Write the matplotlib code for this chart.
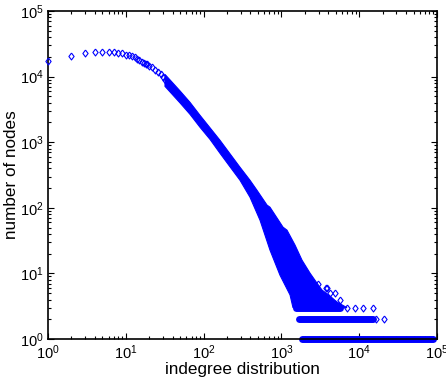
import matplotlib
matplotlib.use('Agg')
import matplotlib.pyplot as plt
from matplotlib.ticker import LogLocator, NullFormatter

plt.rcParams['font.family'] = ['Liberation Sans', 'DejaVu Sans']
plt.rcParams['mathtext.default'] = 'regular'

# small in-degrees, one marker each
low_degree = [1, 2, 3, 4, 5, 6, 7, 8, 9, 10, 11, 12, 13, 14, 15, 16, 17, 18, 19, 20,
              22, 24, 26, 28, 30, 32, 35, 38, 40]
low_count = [17200, 20300, 22800, 23600, 23900, 23900, 23600, 23100, 22500, 21700,
             21000, 20300, 19600, 18600, 17600, 16900, 16400, 15800, 15300, 14700,
             13800, 12800, 11900, 11000, 9890, 8900, 7740, 6850, 6380]

# outline of the dense cloud of overlapping markers
band_upper_deg = [31.9, 37.0, 49.7, 66.9, 89.9, 120.8, 162.5, 218.4, 293.7, 394.8,
                  485.6, 653.3, 713.6, 1049, 1181, 1497, 1841, 2332, 2869, 3327,
                  4217, 5188, 6970]
band_upper_cnt = [10800, 8910, 6060, 4050, 2570, 1660, 1069, 666, 415, 263,
                  185, 110, 102, 50.7, 45.6, 27, 15.9, 10.1, 7.1, 5.57,
                  4.51, 3.66, 3]
band_lower_deg = [31.9, 37.0, 49.7, 66.9, 89.9, 120.8, 162.5, 218.4, 293.7, 394.8,
                  531, 714, 959, 1291, 1410]
band_lower_cnt = [7100, 5850, 3980, 2660, 1690, 1107, 678, 422, 263, 145,
                  64.7, 22.6, 9.4, 4.7, 3]

# rows of nodes with count 1, 2, 3 (dense runs of markers)
row_count = [1, 2, 3]
row_start = [1860, 1660, 1540]
row_end = [89000, 15000, 5660]

# isolated markers at the end of the tail
out_deg = [2950, 3700, 3900, 4200, 4900, 5700, 6970, 8830, 11200, 15000, 16400, 20800]
out_cnt = [7, 6, 6, 5, 5, 4, 3, 3, 3, 3, 2, 2]

blue = (0, 0, 1)
diamond = [(0, 1), (0.75, 0), (0, -1), (-0.75, 0), (0, 1)]

fig = plt.figure(figsize=(4.46, 3.86), dpi=100)
ax = fig.add_axes([48 / 446, 47 / 386, 389 / 446, 328 / 386])

poly_x = band_upper_deg + band_lower_deg[::-1]
poly_y = band_upper_cnt + band_lower_cnt[::-1]
ax.fill(poly_x, poly_y, color=blue, lw=0.8, clip_on=False, zorder=2)

for n, a, b in zip(row_count, row_start, row_end):
    ax.plot([a, b], [n, n], color=blue, lw=5, solid_capstyle='round',
            clip_on=False, zorder=2)

ax.plot(low_degree, low_count, ls='none', marker=diamond, ms=5, mfc='none',
        mec=blue, mew=0.8, clip_on=False, zorder=3)
ax.plot(out_deg, out_cnt, ls='none', marker=diamond, ms=5, mfc='none',
        mec=blue, mew=0.8, clip_on=False, zorder=3)

ax.set_xscale('log')
ax.set_yscale('log')
ax.set_xlim(1, 1e5)
ax.set_ylim(1, 1e5)
for axis in (ax.xaxis, ax.yaxis):
    axis.set_major_locator(LogLocator(base=10, numticks=10))
    axis.set_minor_locator(LogLocator(base=10, subs=range(2, 10), numticks=10))
    axis.set_minor_formatter(NullFormatter())

ax.tick_params(which='both', direction='in', top=True, right=True,
               labelsize=10.5, width=0.8, colors='black')
ax.tick_params(which='major', length=4, pad=3)
ax.tick_params(which='minor', length=2)
for sp in ax.spines.values():
    sp.set_linewidth(1.2)

ax.set_xlabel('indegree distribution', fontsize=12.3, labelpad=0)
ax.set_ylabel('number of nodes', fontsize=12.3, labelpad=1)

fig.savefig('out.png', dpi=100)
